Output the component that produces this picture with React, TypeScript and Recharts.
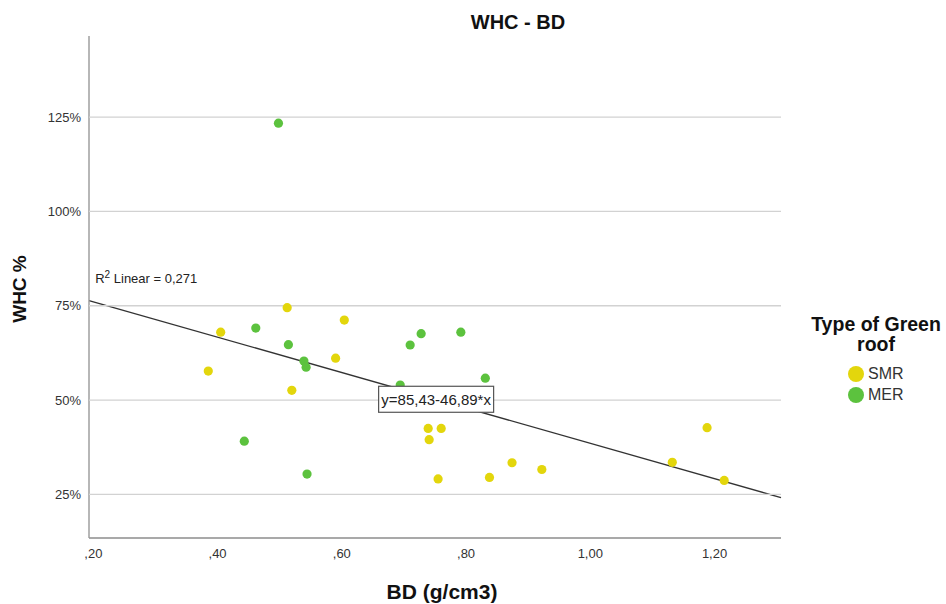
import React from 'react';
import {
  ScatterChart,
  Scatter,
  XAxis,
  YAxis,
  ReferenceLine,
  ReferenceDot,
} from 'recharts';

// ─── Data ─────────────────────────────────────────────────────────────────────

const smrBD = [0.385, 0.405, 0.512, 0.5195, 0.59, 0.604, 0.739, 0.7406, 0.755, 0.76, 0.8377, 0.874, 0.922, 1.132, 1.188, 1.2156];
const smrWHC = [57.7, 68.0, 74.5, 52.6, 61.1, 71.2, 42.5, 39.5, 29.1, 42.5, 29.5, 33.4, 31.6, 33.5, 42.7, 28.7];

const merBD = [0.443, 0.4615, 0.498, 0.514, 0.539, 0.5425, 0.544, 0.694, 0.71, 0.7277, 0.7916, 0.831];
const merWHC = [39.1, 69.1, 123.4, 64.7, 60.35, 58.7, 30.4, 54.0, 64.6, 67.6, 68.0, 55.8];

const xTicks = [0.2, 0.4, 0.6, 0.8, 1.0, 1.2];
const yTicks = [25, 50, 75, 100, 125];

// fit reported in the chart: y = 85,43 - 46,89 * x, R² = 0,271
const fitIntercept = 85.43;
const fitSlope = -46.89;
const rSquared = '0,271';

const xDomain: [number, number] = [0.193, 1.307];
const yDomain: [number, number] = [13.45, 146.5];

const SMR_COLOR = '#e3d60c';
const MER_COLOR = '#5cc23e';
const FONT = '"Liberation Sans", Arial, sans-serif';

const smrData = smrBD.map((x, i) => ({ x, y: smrWHC[i] }));
const merData = merBD.map((x, i) => ({ x, y: merWHC[i] }));

// horizontal grid lines, drawn as line-only series so they stay under the dots
const gridData = yTicks.map((t) => [
  { x: xDomain[0], y: t },
  { x: xDomain[1], y: t },
]);

const fit = (x: number) => fitIntercept + fitSlope * x;
const fmtX = (v: number) => v.toFixed(2).replace('.', ',').replace(/^0/, '');

const dot = (color: string) => (props: any) => (
  <circle cx={props.cx} cy={props.cy} r={4.6} fill={color} />
);
const noDot = () => <g />;

const EquationBox = (props: any) => (
  <g>
    <rect x={props.cx - 57} y={props.cy - 13} width={115} height={26} fill="#fff" stroke="#555" strokeWidth={1.2} />
    <text x={props.cx + 0.5} y={props.cy + 5.5} textAnchor="middle" fontSize={15} fill="#222" fontFamily={FONT}>
      y=85,43-46,89*x
    </text>
  </g>
);

const RSquaredLabel = (props: any) => (
  <text x={props.cx} y={props.cy + 4.5} fontSize={13} fill="#222" fontFamily={FONT}>
    R<tspan dy={-5} fontSize={10}>2</tspan>
    <tspan dy={5}> Linear = {rSquared}</tspan>
  </text>
);

export default function App() {
  return (
    <div style={{ position: 'absolute', left: 0, top: 0, width: 946, height: 604, background: '#fff', fontFamily: FONT }}>
      <ScatterChart
        width={946}
        height={604}
        margin={{ top: 36, right: 165, left: 29, bottom: 36 }}
      >
        <XAxis
          type="number"
          dataKey="x"
          domain={xDomain}
          ticks={xTicks}
          allowDataOverflow
          tickFormatter={fmtX}
          tickLine={false}
          axisLine={{ stroke: '#8c8c8c', strokeWidth: 1.6 }}
          tick={{ fontSize: 13, fill: '#333', fontFamily: FONT }}
          tickMargin={5}
          height={30}
        />
        <YAxis
          type="number"
          dataKey="y"
          domain={yDomain}
          ticks={yTicks}
          allowDataOverflow
          tickFormatter={(v: number) => `${v}%`}
          tickLine={false}
          axisLine={{ stroke: '#999', strokeWidth: 1.4 }}
          tick={{ fontSize: 13, fill: '#333', fontFamily: FONT }}
          tickMargin={2}
          width={60}
        />
        {gridData.map((seg, i) => (
          <Scatter
            key={`grid-${i}`}
            data={seg}
            line={{ stroke: '#d2d2d2', strokeWidth: 1.3 }}
            shape={noDot}
            isAnimationActive={false}
          />
        ))}
        <Scatter name="SMR" data={smrData} fill={SMR_COLOR} shape={dot(SMR_COLOR)} isAnimationActive={false} />
        <Scatter name="MER" data={merData} fill={MER_COLOR} shape={dot(MER_COLOR)} isAnimationActive={false} />
        <ReferenceLine
          segment={[
            { x: xDomain[0], y: fit(xDomain[0]) },
            { x: xDomain[1], y: fit(xDomain[1]) },
          ]}
          stroke="#333"
          strokeWidth={1.4}
        />
        <ReferenceDot x={0.751} y={fit(0.751)} shape={EquationBox} />
        <ReferenceDot x={0.203} y={82.3} shape={RSquaredLabel} />
      </ScatterChart>

      <div style={{ position: 'absolute', left: 418, top: 10, width: 200, textAlign: 'center', fontSize: 20, fontWeight: 'bold', color: '#111', lineHeight: '24px' }}>
        WHC - BD
      </div>
      <div style={{ position: 'absolute', left: 342, top: 579, width: 200, textAlign: 'center', fontSize: 21, fontWeight: 'bold', color: '#111', lineHeight: '25px' }}>
        BD (g/cm3)
      </div>
      <div
        style={{
          position: 'absolute',
          left: 20,
          top: 289,
          transform: 'translate(-50%, -50%) rotate(-90deg)',
          fontSize: 19,
          fontWeight: 'bold',
          color: '#111',
          whiteSpace: 'nowrap',
          lineHeight: '22px',
        }}
      >
        WHC %
      </div>

      <div style={{ position: 'absolute', left: 796, top: 314, width: 160, textAlign: 'center', fontSize: 19.5, fontWeight: 'bold', color: '#111' }}>
        <div style={{ lineHeight: '20px', height: 20 }}>Type of Green</div>
        <div style={{ lineHeight: '20px', height: 20 }}>roof</div>
      </div>
      {[
        { name: 'SMR', color: SMR_COLOR, top: 365 },
        { name: 'MER', color: MER_COLOR, top: 386 },
      ].map((item) => (
        <div key={item.name} style={{ position: 'absolute', left: 848, top: item.top, display: 'flex', alignItems: 'center', height: 17 }}>
          <span style={{ display: 'inline-block', width: 16, height: 16, borderRadius: 8, background: item.color }} />
          <span style={{ marginLeft: 4, fontSize: 16, color: '#333' }}>{item.name}</span>
        </div>
      ))}
    </div>
  );
}
